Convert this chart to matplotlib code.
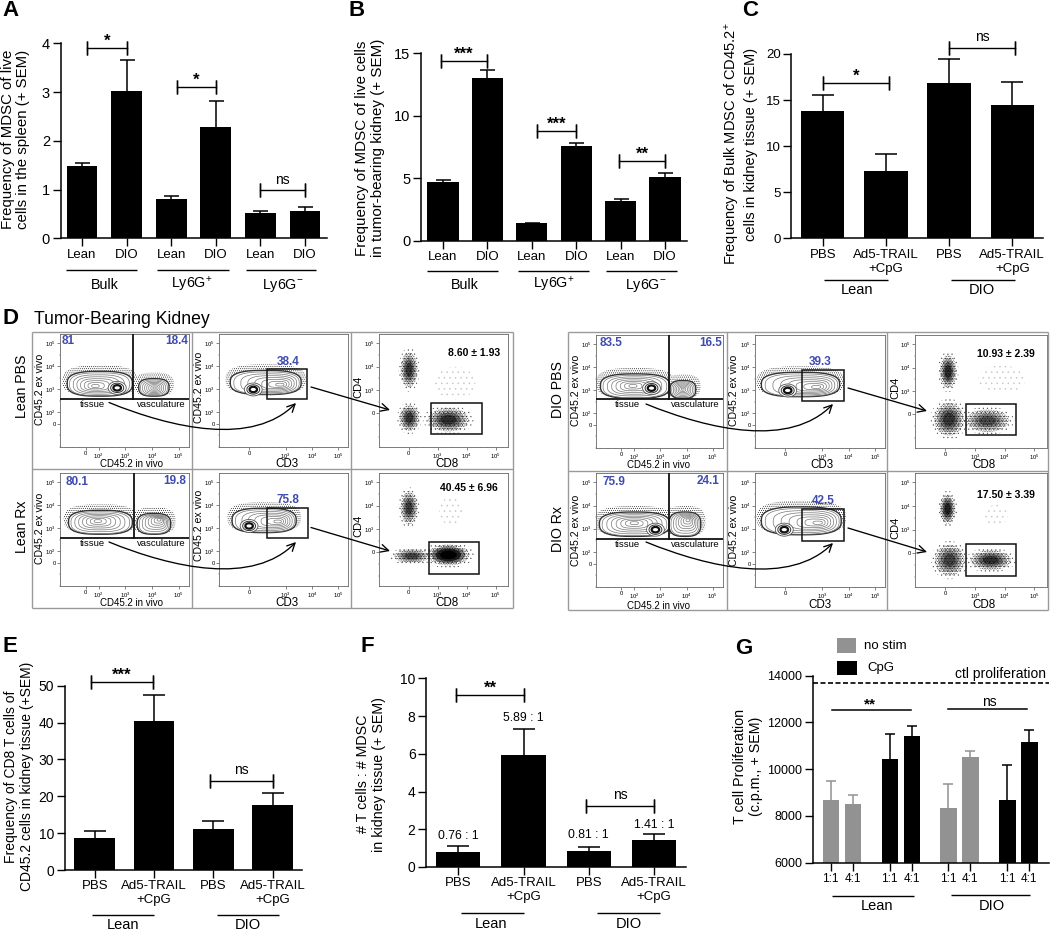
#!/usr/bin/env python3
# -*- coding: utf-8 -*-
"""Multi panel figure: MDSC / T cell bars and flow cytometry gates."""
import numpy as np
import matplotlib
matplotlib.use("Agg")
import matplotlib.pyplot as plt
from matplotlib.lines import Line2D
from matplotlib.patches import Polygon, Rectangle, FancyArrowPatch
from matplotlib.path import Path
from matplotlib.ticker import MultipleLocator

plt.rcParams["font.family"] = ["Liberation Sans", "DejaVu Sans"]
plt.rcParams["mathtext.fontset"] = "custom"
plt.rcParams["mathtext.rm"] = "Liberation Sans"
plt.rcParams["mathtext.default"] = "regular"
plt.rcParams["hatch.linewidth"] = 0.35

W, H = 1050, 931
GREY = "#929292"
BLUE = "#3F4CAE"

# ── bar data ──────────────────────────────────────────────────────────────
A_LABELS = ["Lean", "DIO", "Lean", "DIO", "Lean", "DIO"]
A_MEANS = [1.48, 3.03, 0.80, 2.28, 0.52, 0.55]
A_TOPS = [1.55, 3.65, 0.87, 2.82, 0.55, 0.64]
A_TICKS = [0, 1, 2, 3, 4]

B_LABELS = A_LABELS
B_MEANS = [4.7, 13.05, 1.4, 7.6, 3.2, 5.15]
B_TOPS = [4.9, 13.65, 1.45, 7.85, 3.35, 5.4]
B_TICKS = [0, 5, 10, 15]

RX_LABELS = ["PBS", "Ad5-TRAIL\n+CpG", "PBS", "Ad5-TRAIL\n+CpG"]
C_MEANS = [13.8, 7.35, 16.8, 14.5]
C_TOPS = [15.5, 9.15, 19.5, 17.0]
C_TICKS = [0, 5, 10, 15, 20]

E_MEANS = [8.7, 40.5, 11.0, 17.6]
E_TOPS = [10.5, 47.4, 13.2, 20.8]
E_TICKS = [0, 10, 20, 30, 40, 50]

F_MEANS = [0.79, 5.92, 0.83, 1.43]
F_TOPS = [1.10, 7.33, 1.05, 1.73]
F_TICKS = [0, 2, 4, 6, 8, 10]
F_RATIOS = ["0.76 : 1", "5.89 : 1", "0.81 : 1", "1.41 : 1"]

G_LABELS = ["1:1", "4:1", "1:1", "4:1", "1:1", "4:1", "1:1", "4:1"]
G_MEANS = [8700, 8500, 10440, 11430, 8350, 10520, 8700, 11160]
G_TOPS = [9500, 8880, 11520, 11860, 9380, 10800, 10170, 11680]
G_COLORS = [GREY, GREY, "black", "black", GREY, GREY, "black", "black"]
G_TICKS = [6000, 8000, 10000, 12000, 14000]
G_CTL = 13700

# ── flow data, in decades on the biexponential axes ───────────────────────
# col 1 contours: outer (x0, x1, y0, y1), then hot spot (x, y)
LP_TISSUE = [(0.85, 3.22, 2.70, 3.74, 1.85, 3.13)]
LP_VASC = [(3.54, 4.60, 2.70, 3.42, 4.10, 3.05)]
LP_HOT = [(2.69, 3.06)]
LR_TISSUE = [(0.90, 3.22, 2.74, 3.74, 1.95, 3.32)]
LR_VASC = [(3.48, 4.66, 2.74, 3.60, 4.29, 3.39)]
LR_HOT = []
DP_TISSUE = [(0.75, 3.31, 2.65, 3.67, 1.94, 3.19)]
DP_VASC = [(3.41, 4.31, 2.65, 3.38, 3.85, 3.05)]
DP_HOT = [(2.66, 3.09)]
DR_TISSUE = [(0.71, 3.31, 2.67, 3.68, 2.00, 3.25)]
DR_VASC = [(3.37, 4.50, 2.67, 3.68, 4.06, 3.39)]
DR_HOT = [(2.81, 2.96)]

# col 1 gates: vertical x, horizontal y
GATE1_X = [3.29, 3.31, 3.31, 3.31]
GATE1_Y = [2.58, 2.57, 2.61, 2.55]
PCT_LEFT = ["81", "80.1", "83.5", "75.9"]
PCT_LEFT_XY = [(0.85, 5.09), (1.19, 4.99), (1.12, 5.07), (1.22, 5.00)]
PCT_RIGHT = ["18.4", "19.8", "16.5", "24.1"]
PCT_RIGHT_XY = [(4.92, 5.09), (4.87, 5.04), (4.91, 5.07), (4.81, 5.06)]

# col 2 contours
CD3_POPS = [
    (0.92, 3.55, 2.77, 3.78, 2.85, 3.19),
    (0.99, 3.36, 2.81, 3.83, 2.76, 3.29),
    (0.73, 3.62, 2.72, 3.74, 2.85, 3.13),
    (0.73, 3.68, 2.74, 3.90, 2.91, 3.25),
]
CD3_HOT = [(1.76, 2.99), (1.60, 3.10), (1.69, 2.99), (1.56, 2.96)]
CD3_GATE = [
    (2.27, 3.83, 2.58, 3.88),
    (2.29, 3.85, 2.57, 3.87),
    (2.23, 3.81, 2.55, 3.88),
    (2.23, 3.81, 2.49, 3.86),
]
CD3_PCT = ["38.4", "75.8", "39.3", "42.5"]
CD3_PCT_XY = [(3.10, 4.19), (3.09, 4.22), (2.91, 4.22), (3.04, 4.19)]

# col 3 clouds: x, y, rx, ry, weight
LP_CLOUDS = [(2.01, 3.87, 0.29, 0.75, 0.8), (2.02, 1.80, 0.34, 0.55, 0.8),
             (3.37, 1.73, 0.70, 0.50, 0.85), (3.60, 3.30, 0.70, 0.70, 0.05)]
LR_CLOUDS = [(2.01, 3.91, 0.29, 0.70, 0.75), (2.10, 1.84, 0.60, 0.30, 0.7),
             (3.37, 1.89, 0.72, 0.45, 1.6), (3.45, 3.77, 0.40, 0.60, 0.2)]
DP_CLOUDS = [(2.09, 3.83, 0.28, 0.70, 0.9), (2.12, 1.79, 0.50, 0.70, 0.8),
             (3.42, 1.73, 0.72, 0.48, 0.65), (3.90, 3.50, 0.80, 0.60, 0.05)]
DR_CLOUDS = [(2.07, 3.87, 0.26, 0.62, 1.0), (2.14, 1.70, 0.50, 0.65, 0.7),
             (3.53, 1.70, 0.68, 0.42, 0.85), (3.70, 3.60, 0.40, 0.45, 0.08)]
CD8_GATE = [
    (2.78, 4.52, 1.11, 2.44),
    (2.69, 4.44, 1.06, 2.44),
    (2.68, 4.37, 1.10, 2.43),
    (2.68, 4.37, 1.01, 2.39),
]
CD8_STAT = ["8.60 ± 1.93", "40.45 ± 6.96", "10.93 ± 2.39", "17.50 ± 3.39"]
CD8_STAT_XY = [(4.26, 4.57), (4.08, 4.76), (4.04, 4.60), (4.04, 4.46)]

fig = plt.figure(figsize=(W / 100, H / 100), dpi=100, facecolor="white")


def fx(x):
    return x / W


def fy(y):
    return 1 - y / H


def ptext(x, y, s, **kw):
    kw.setdefault("ha", "center")
    kw.setdefault("va", "center")
    kw.setdefault("fontsize", 10.3)
    return fig.text(fx(x), fy(y), s, **kw)


def pline(x0, y0, x1, y1, color="black", lw=1.0, zorder=1):
    fig.add_artist(Line2D([fx(x0), fx(x1)], [fy(y0), fy(y1)], color=color,
                          lw=lw, zorder=zorder, solid_capstyle="butt"))


def bar_axes(left, right, top, base, c0, step, ymin, ymax):
    ax = fig.add_axes([fx(left), fy(base), fx(right - left), (base - top) / H])
    ax.patch.set_alpha(0)
    ax.set_xlim((left - c0) / step, (right - c0) / step)
    ax.set_ylim(ymin, ymax)
    for s in ("top", "right"):
        ax.spines[s].set_visible(False)
    for s in ("left", "bottom"):
        ax.spines[s].set_linewidth(1.1)
    ax.tick_params(length=5.5, width=1.0, labelsize=9.5, pad=2)
    return ax


def bracket(ax, x0, x1, y, label, caps=True):
    ax.plot([x0, x1], [y, y], color="black", lw=1.0, clip_on=False)
    if caps:
        for x in (x0, x1):
            ax.plot([x, x], [y, y], color="black", marker="|", ms=9.5, mew=1.0,
                    clip_on=False)
    star = "*" in label
    ax.annotate(label, ((x0 + x1) / 2, y), xytext=(0, 5 if star else 7.5),
                textcoords="offset points", ha="center", va="center",
                fontsize=12 if star else 10, fontweight="bold" if star else "normal",
                annotation_clip=False)


def bars(ax, means, tops, capsize, width, colors="black", xs=None):
    xs = np.arange(len(means)) if xs is None else np.array(xs)
    ax.bar(xs, means, width=width, color=colors, linewidth=0, zorder=2)
    ecols = [colors] * len(xs) if isinstance(colors, str) else colors
    for x, m, t, c in zip(xs, means, tops, ecols):
        _, caps, _ = ax.errorbar([x], [m], yerr=[[0], [t - m]], color=c, capsize=capsize,
                                 elinewidth=1.1, capthick=1.1, zorder=1, clip_on=False)
        caps[0].remove()
    ax.set_xticks(xs)


# ── A ──
ptext(10, 11, "A", fontsize=16, fontweight="bold")
ax = bar_axes(60.5, 326.7, 43.3, 238.3, 82, 44.6, 0, 4)
bars(ax, A_MEANS, A_TOPS, 5.4, 0.695)
ax.set_xticklabels(A_LABELS)
ax.set_yticks(A_TICKS)
ax.tick_params(axis="y", labelsize=10.5)
bracket(ax, 0.12, 1.0, 3.90, "*")
bracket(ax, 2.12, 3.0, 3.10, "*")
bracket(ax, 4.0, 5.0, 0.985, "ns")
ptext(15.5, 139, "Frequency of MDSC of live\ncells in the spleen (+ SEM)",
      rotation=90, fontsize=10.8, linespacing=1.15)
for x0, x1 in ((66, 137), (157, 229), (246, 316)):
    pline(x0, 270, x1, 270)
ptext(105, 285, "Bulk")
ptext(192, 285, "Ly6G$^{+}$")
ptext(283, 285, "Ly6G$^{-}$")

# ── B ──
ptext(357, 10, "B", fontsize=16, fontweight="bold")
ax = bar_axes(420.7, 687.3, 53.3, 241, 443, 44.4, 0, 15)
bars(ax, B_MEANS, B_TOPS, 5.4, 0.7)
ax.set_xticklabels(B_LABELS)
ax.set_yticks(B_TICKS)
ax.tick_params(axis="y", labelsize=10.5)
bracket(ax, -0.05, 1.0, 14.35, "***")
bracket(ax, 2.12, 3.0, 8.80, "***")
bracket(ax, 3.97, 5.0, 6.37, "**")
ptext(370, 148, "Frequency of MDSC of live cells\nin tumor-bearing kidney (+ SEM)",
      rotation=90, fontsize=10.9, linespacing=1.15)
for x0, x1 in ((427, 498), (518, 589), (606, 677)):
    pline(x0, 271, x1, 271)
ptext(465, 285, "Bulk")
ptext(554, 285, "Ly6G$^{+}$")
ptext(646, 285, "Ly6G$^{-}$")

# ── C ──
ptext(750, 11, "C", fontsize=16, fontweight="bold")
ax = bar_axes(791, 1043.3, 54, 238.3, 822.7, 63.2, 0, 20)
bars(ax, C_MEANS, C_TOPS, 8, 0.685)
ax.set_xticklabels(RX_LABELS, fontsize=9.5)
ax.set_yticks(C_TICKS)
bracket(ax, 0, 1.05, 16.85, "*")
bracket(ax, 2, 3.04, 20.7, "ns")
ptext(740.5, 144, "Frequency of Bulk MDSC of CD45.2$^{+}$\ncells in kidney tissue (+ SEM)",
      rotation=90, fontsize=10.5, linespacing=1.15)
pline(824, 279.5, 888, 279.5)
pline(951, 279.5, 1015, 279.5)
ptext(857, 290, "Lean", fontsize=10.5)
ptext(982, 290, "DIO", fontsize=10.5)

# ── D: flow panels ──
ptext(10, 318, "D", fontsize=16, fontweight="bold")
ptext(34, 320, "Tumor-Bearing Kidney", ha="left", fontsize=12.7)

for xs, ys in (((32, 192, 351, 513), (332, 469, 608)),
               ((568, 727, 887, 1048), (332, 471, 610))):
    for x in xs:
        pline(x, ys[0], x, ys[2], color="#9a9a9a")
    for y in ys:
        pline(xs[0], y, xs[3], y, color="#9a9a9a")


def sup(x0, x1, y0, y1, n=80, p=2.8):
    # rounded box outline
    t = np.linspace(0, 2 * np.pi, n)
    cx, cy = (x0 + x1) / 2, (y0 + y1) / 2
    xx = cx + (x1 - x0) / 2 * np.sign(np.cos(t)) * np.abs(np.cos(t)) ** (2 / p)
    yy = cy + (y1 - y0) / 2 * np.sign(np.sin(t)) * np.abs(np.sin(t)) ** (2 / p)
    return np.column_stack([xx, yy])


def contour_blob(ax, spec, rings=7):
    x0, x1, y0, y1, hx, hy = spec
    ax.add_patch(Polygon(sup(x0 - 0.22, x1 + 0.22, y0, y1 + 0.3), closed=True,
                         facecolor="white", edgecolor="black", hatch="........",
                         linewidth=0, zorder=2))
    ax.add_patch(Polygon(sup(x0 - 0.04, x1 + 0.04, y0, y1 + 0.04), closed=True,
                         facecolor="white", edgecolor="#333333", linewidth=1.0, zorder=3))
    for t in np.linspace(0.95, 0.12, rings):
        ax.add_patch(Polygon(
            sup(hx + (x0 - hx) * t, hx + (x1 - hx) * t,
                hy + (y0 - hy) * t, hy + (y1 - hy) * t),
            closed=True, facecolor="none", edgecolor="#777777", linewidth=0.5, zorder=4))


def hot_spot(ax, x, y, rx=0.34, ry=0.28):
    for t, c, lw in ((1.0, "#555555", 0.6), (0.72, "#333333", 0.7), (0.42, "#111111", 1.6)):
        ax.add_patch(Polygon(sup(x - rx * t, x + rx * t, y - ry * t, y + ry * t, p=2),
                             closed=True, facecolor="white", edgecolor=c, linewidth=lw,
                             zorder=5))


def cloud(ax, x, y, rx, ry, weight):
    t = np.linspace(0, 2 * np.pi, 60)
    ring = np.column_stack([np.cos(t), np.sin(t)])
    if weight < 0.3:
        ax.add_patch(Polygon(ring * [rx, ry] + [x, y], closed=True, facecolor="none",
                             edgecolor="#c4c4c4", hatch="...", linewidth=0, zorder=2))
        return
    ax.add_patch(Polygon(ring * [rx * 1.25, ry * 1.25] + [x, y], closed=True,
                         facecolor="none", edgecolor="#555555", hatch="....",
                         linewidth=0, zorder=2))
    ax.add_patch(Polygon(ring * [rx, ry] + [x, y], closed=True, facecolor="none",
                         edgecolor="black", hatch="..........", linewidth=0, zorder=2))
    for s, a in ((0.8, 0.3), (0.6, 0.45), (0.4, 0.6)):
        ax.add_patch(Polygon(ring * [s * rx, s * ry] + [x, y], closed=True,
                             facecolor="black", edgecolor="none", linewidth=0,
                             alpha=min(a * weight, 1), zorder=3))


def flow_axes(left, right, top, bottom, xlim, ylim, xticks, yticks):
    ax = fig.add_axes([fx(left), fy(bottom), fx(right - left), (bottom - top) / H])
    ax.set_xlim(*xlim)
    ax.set_ylim(*ylim)
    for s in ax.spines.values():
        s.set_linewidth(0.6)
        s.set_color("#666666")
    ax.set_xticks([v for v, _ in xticks])
    ax.set_xticklabels([t for _, t in xticks])
    ax.set_yticks([v for v, _ in yticks])
    ax.set_yticklabels([t for _, t in yticks])
    ax.xaxis.set_minor_locator(MultipleLocator(0.25))
    ax.yaxis.set_minor_locator(MultipleLocator(0.5))
    ax.tick_params(length=2, width=0.5, labelsize=4.2, pad=1.2, color="#555555")
    ax.tick_params(which="minor", length=1, width=0.3, color="#555555")
    return ax


TICKS_13 = [(1.5, "0"), (2, "$10^{2}$"), (3, "$10^{3}$"), (4, "$10^{4}$"), (5, "$10^{5}$")]
TICKS_X2 = [(1.6, "0"), (3, "$10^{3}$"), (4, "$10^{4}$"), (5, "$10^{5}$")]
TICKS_3 = [(2.0, "0"), (3, "$10^{3}$"), (4, "$10^{4}$"), (5, "$10^{5}$")]

ROWS = [
    # column lefts / rights, top, bottom, index, tissue, vasculature, hot, clouds
    (((60, 189), (219, 348), (379, 508)), 334, 447, 0, LP_TISSUE, LP_VASC, LP_HOT, LP_CLOUDS),
    (((60, 189), (219, 348), (379, 508)), 473, 586, 1, LR_TISSUE, LR_VASC, LR_HOT, LR_CLOUDS),
    (((596, 723), (755, 885), (915, 1047)), 335, 448, 2, DP_TISSUE, DP_VASC, DP_HOT, DP_CLOUDS),
    (((596, 723), (755, 885), (915, 1047)), 473, 587, 3, DR_TISSUE, DR_VASC, DR_HOT, DR_CLOUDS),
]

for cols, top, bottom, i, tissue, vasc, hots, clouds in ROWS:
    # tissue / vasculature
    ax = flow_axes(cols[0][0], cols[0][1], top, bottom, (0.54, 5.39), (0.49, 5.40),
                   TICKS_13, TICKS_13)
    for spec in tissue + vasc:
        contour_blob(ax, spec)
    for hx, hy in hots:
        hot_spot(ax, hx, hy)
    ax.plot([GATE1_X[i]] * 2, [GATE1_Y[i], 5.4], color="#111111", lw=1.3, zorder=6)
    ax.plot([0.54, 5.39], [GATE1_Y[i]] * 2, color="#111111", lw=1.3, zorder=6)
    ax.text(*PCT_LEFT_XY[i], PCT_LEFT[i], color=BLUE, fontsize=8.5, fontweight="bold",
            ha="center", va="center")
    ax.text(*PCT_RIGHT_XY[i], PCT_RIGHT[i], color=BLUE, fontsize=8.5, fontweight="bold",
            ha="center", va="center")
    ax.text(1.75, GATE1_Y[i] - 0.25, "tissue", fontsize=6.8, ha="center", va="center")
    ax.text(4.35, GATE1_Y[i] - 0.25, "vasculature", fontsize=6.8, ha="center", va="center")

    # CD3 gate
    ax = flow_axes(cols[1][0], cols[1][1], top, bottom, (0.45, 5.38), (0.49, 5.40),
                   TICKS_X2, TICKS_13)
    contour_blob(ax, CD3_POPS[i])
    hot_spot(ax, *CD3_HOT[i])
    gx0, gx1, gy0, gy1 = CD3_GATE[i]
    ax.add_patch(Rectangle((gx0, gy0), gx1 - gx0, gy1 - gy0, fill=False, lw=1.1,
                           edgecolor="#111111", zorder=6))
    ax.text(*CD3_PCT_XY[i], CD3_PCT[i], color=BLUE, fontsize=8.5, fontweight="bold",
            ha="center", va="center")

    # CD8 gate
    ax = flow_axes(cols[2][0], cols[2][1], top, bottom, (0.97, 5.43), (0.56, 5.40),
                   TICKS_3, TICKS_3)
    for c in clouds:
        cloud(ax, *c)
    gx0, gx1, gy0, gy1 = CD8_GATE[i]
    ax.add_patch(Rectangle((gx0, gy0), gx1 - gx0, gy1 - gy0, fill=False, lw=1.1,
                           edgecolor="#111111", zorder=6))
    ax.text(*CD8_STAT_XY[i], CD8_STAT[i], fontsize=7.5, fontweight="bold",
            ha="center", va="center")

# flow axis titles
for x, y in ((131.7, 464.5), (131.7, 603), (658.3, 465.5), (658.3, 606)):
    ptext(x, y, "CD45.2 in vivo", fontsize=7)
for x, y in ((287.3, 464), (287.3, 603), (822.3, 465), (820, 605.5)):
    ptext(x, y, "CD3", fontsize=8.4)
for x, y in ((446.7, 464), (446.7, 603), (984.3, 465), (984.3, 605.5)):
    ptext(x, y, "CD8", fontsize=8.4)
for x, y in ((40, 389), (40, 528), (199, 387), (199, 525.7),
             (576, 390.7), (576, 530.7), (734.3, 390.7), (734.3, 530.7)):
    ptext(x, y, "CD45.2 ex vivo", fontsize=7.6, rotation=90)
for x, y in ((358, 387), (358, 525.7), (895, 388), (895, 528)):
    ptext(x, y, "CD4", fontsize=8, rotation=90)
ptext(21.7, 386, "Lean PBS", fontsize=10.2, rotation=90)
ptext(21.7, 526.7, "Lean Rx", fontsize=10.2, rotation=90)
ptext(557.7, 390, "DIO PBS", fontsize=10.2, rotation=90)
ptext(557.7, 529, "DIO Rx", fontsize=10.2, rotation=90)


def curved(x0, y0, dx, y1):
    # sweeping arrow from the tissue label up into the CD3 gate
    verts = [(x0, y0), (x0 + 64, y0 + 26), (x0 + 144, y0 + 44), (x0 + dx, y1)]
    verts = [(fx(a), fy(b)) for a, b in verts]
    codes = [Path.MOVETO, Path.CURVE4, Path.CURVE4, Path.CURVE4]
    fig.add_artist(FancyArrowPatch(path=Path(verts, codes), arrowstyle="->",
                                   mutation_scale=14, lw=0.95, color="black",
                                   transform=fig.transFigure, zorder=8))


def straight(x0, y0, x1, y1):
    fig.add_artist(FancyArrowPatch((fx(x0), fy(y0)), (fx(x1), fy(y1)), arrowstyle="->",
                                   mutation_scale=14, lw=0.95, color="black",
                                   transform=fig.transFigure, shrinkA=0, shrinkB=0,
                                   zorder=8))


curved(109, 402.5, 187, 403)
curved(109, 542, 187, 542)
curved(646, 404, 187, 404)
curved(646, 542, 187, 543)
straight(311, 387, 390, 410)
straight(311, 527.5, 390, 551)
straight(848, 388, 927, 411)
straight(848, 528, 927, 552)

# ── E ──
ptext(10, 647, "E", fontsize=16, fontweight="bold")
ax = bar_axes(64.7, 302.3, 685.7, 870, 94.7, 59.3, 0, 50)
bars(ax, E_MEANS, E_TOPS, 8, 0.686)
ax.set_xticklabels(RX_LABELS, fontsize=9.5)
ax.set_yticks(E_TICKS)
ax.tick_params(axis="y", labelsize=10)
bracket(ax, -0.07, 0.98, 51, "***")
bracket(ax, 1.94, 3.0, 24.2, "ns")
ptext(18.7, 776.7, "Frequency of CD8 T cells of\nCD45.2 cells in kidney tissue (+SEM)",
      rotation=90, fontsize=10, linespacing=1.15)
pline(92, 914.5, 154, 914.5)
pline(217, 914.5, 279, 914.5)
ptext(123.5, 925, "Lean", fontsize=10.5)
ptext(248, 925, "DIO", fontsize=10.5)

# ── F ──
ptext(367, 647, "F", fontsize=16, fontweight="bold")
ax = bar_axes(426, 686, 678.3, 867, 458.3, 65.2, 0, 10)
bars(ax, F_MEANS, F_TOPS, 8, 0.68)
ax.set_xticklabels(RX_LABELS, fontsize=9.5)
ax.set_yticks(F_TICKS)
ax.tick_params(axis="y", labelsize=10)
bracket(ax, -0.03, 1.0, 9.13, "**")
bracket(ax, 1.96, 3.0, 3.25, "ns")
for x, t, y in zip(range(4), F_RATIOS, (1.66, 7.90, 1.69, 2.23)):
    ax.text(x, y, t, fontsize=8.8, ha="center", va="center")
ptext(371.3, 774, "# T cells : # MDSC\nin kidney tissue (+ SEM)", rotation=90,
      fontsize=10.3, linespacing=1.15)
pline(461, 913, 524, 913)
pline(597, 913, 660, 913)
ptext(491, 924, "Lean", fontsize=10.5)
ptext(629, 923.5, "DIO", fontsize=10.5)

# ── G ──
G_X = [0, 1, 2.68, 3.68, 5.35, 6.35, 8.03, 9.03]
ptext(744, 648, "G", fontsize=16, fontweight="bold")
ax = bar_axes(812.7, 1049, 675.7, 862.7, 830.7, 22, 6000, 14000)
bars(ax, G_MEANS, G_TOPS, 3.6, 0.74, colors=G_COLORS, xs=G_X)
ax.set_xticklabels(G_LABELS, fontsize=8.5)
ax.set_yticks(G_TICKS)
ax.tick_params(axis="y", labelsize=9)
ax.axhline(G_CTL, color="black", lw=1.2, ls=(0, (3, 1.5)), zorder=3)
ax.plot([0.08, 3.67], [12547, 12547], color="black", lw=1.1)
ax.plot([5.33, 8.92], [12575, 12575], color="black", lw=1.1)
ax.text(1.8, 12770, "**", fontsize=11, fontweight="bold", ha="center", va="center")
ax.text(7.2, 12880, "ns", fontsize=10, ha="center", va="center")
ax.text(9.79, 14074, "ctl proliferation", fontsize=10, ha="right", va="center", clip_on=False)
ptext(748.3, 766.7, "T cell Proliferation\n(c.p.m., + SEM)", rotation=90, fontsize=10.3,
      linespacing=1.15)
fig.add_artist(Rectangle((fx(836.7), fy(652.7)), 19.3 / W, 14.3 / H, facecolor=GREY,
                         edgecolor="none", transform=fig.transFigure))
fig.add_artist(Rectangle((fx(837.3), fy(675)), 20 / W, 14 / H, facecolor="black",
                         edgecolor="none", transform=fig.transFigure))
ptext(885, 646, "no stim", fontsize=9.5)
ptext(881.3, 668.3, "CpG", fontsize=9.5)
pline(832.3, 895.7, 914, 895.7)
pline(950.7, 895, 1029.7, 895)
ptext(876.7, 906, "Lean", fontsize=10.5)
ptext(992, 906, "DIO", fontsize=10.5)

fig.savefig("out.png", dpi=100, facecolor="white")
